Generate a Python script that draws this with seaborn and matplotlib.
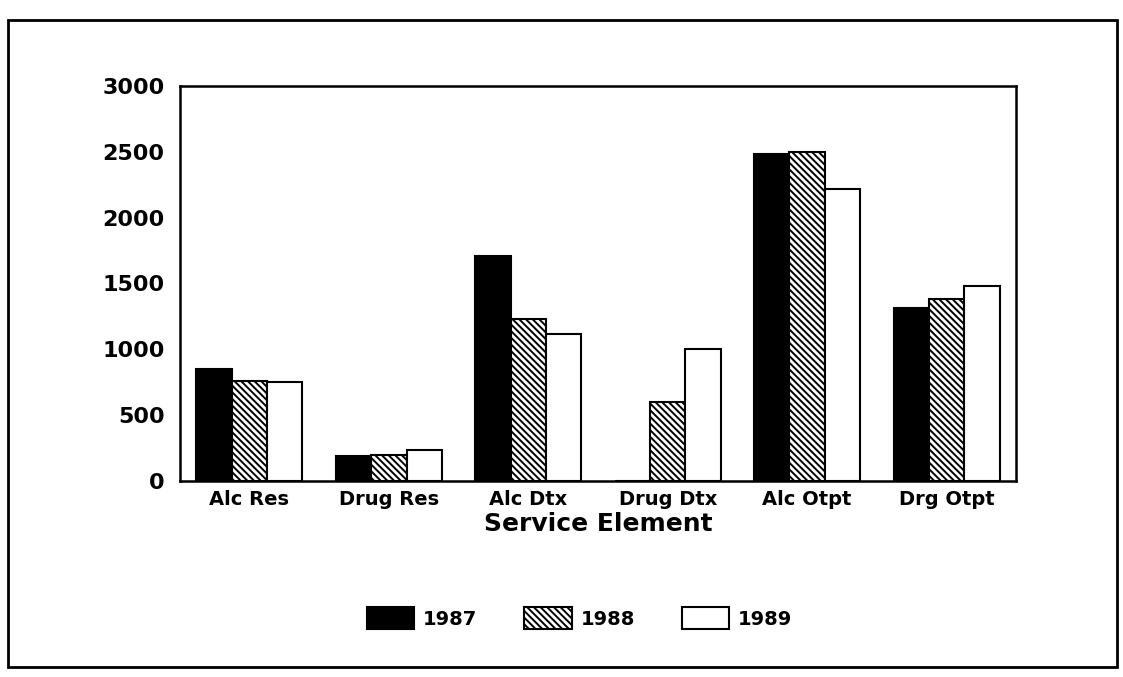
import pandas as pd
import matplotlib
matplotlib.use("Agg")
import matplotlib.pyplot as plt
from matplotlib.patches import Rectangle
import seaborn as sns

# categories and values
servicos = ["Alc Res", "Drug Res", "Alc Dtx", "Drug Dtx", "Alc Otpt", "Drg Otpt"]
anos = ["1987", "1988", "1989"]
v1987 = [850, 185, 1710, 0, 2480, 1310]
v1988 = [760, 195, 1230, 600, 2500, 1380]
v1989 = [750, 230, 1115, 1000, 2220, 1480]

df = pd.DataFrame({
    "Servico": servicos * 3,
    "Ano": [anos[0]] * 6 + [anos[1]] * 6 + [anos[2]] * 6,
    "Valor": v1987 + v1988 + v1989,
})

sns.set_style("white")
plt.rcParams["font.family"] = ["DejaVu Sans"]
plt.rcParams["hatch.linewidth"] = 1.4
plt.rcParams["text.color"] = "black"
plt.rcParams["axes.labelcolor"] = "black"
plt.rcParams["xtick.color"] = "black"
plt.rcParams["ytick.color"] = "black"

fig = plt.figure(figsize=(11.23, 6.77), dpi=100)
ax = fig.add_axes([0.160, 0.290, 0.745, 0.583])

sns.barplot(data=df, x="Servico", y="Valor", hue="Ano", order=servicos, hue_order=anos,
            palette=["black", "white", "white"], width=0.76, gap=0,
            edgecolor="black", linewidth=1.5, saturation=1, legend=False, ax=ax)

# 1988 bars are hatched
for p in ax.containers[1]:
    p.set_hatch("\\\\\\\\\\")

ax.set_ylim(0, 3000)
ax.set_xlim(-0.5, 5.5)
ax.set_yticks([0, 500, 1000, 1500, 2000, 2500, 3000])
ax.tick_params(axis="y", direction="in", length=7, width=1.5, labelsize=16, pad=11)
ax.tick_params(axis="x", length=0, labelsize=14, pad=7)
for lab in ax.get_xticklabels() + ax.get_yticklabels():
    lab.set_fontweight("bold")
for s in ax.spines.values():
    s.set_visible(True)
    s.set_linewidth(1.8)
    s.set_color("black")

ax.set_ylabel("")
ax.set_xlabel("Service Element", fontsize=18, fontweight="bold", labelpad=2)

fig.legend(ax.containers, anos, loc="center", bbox_to_anchor=(0.516, 0.087), ncol=3,
           frameon=False, handlelength=2.45, handleheight=1.4, columnspacing=2.4,
           handletextpad=0.45, prop={"size": 14, "weight": "bold"})

# outer frame of the scanned page
fig.add_artist(Rectangle((0.007, 0.015), 0.988, 0.955, transform=fig.transFigure,
                         fill=False, lw=2, edgecolor="black"))

plt.savefig("out.png", dpi=100)
